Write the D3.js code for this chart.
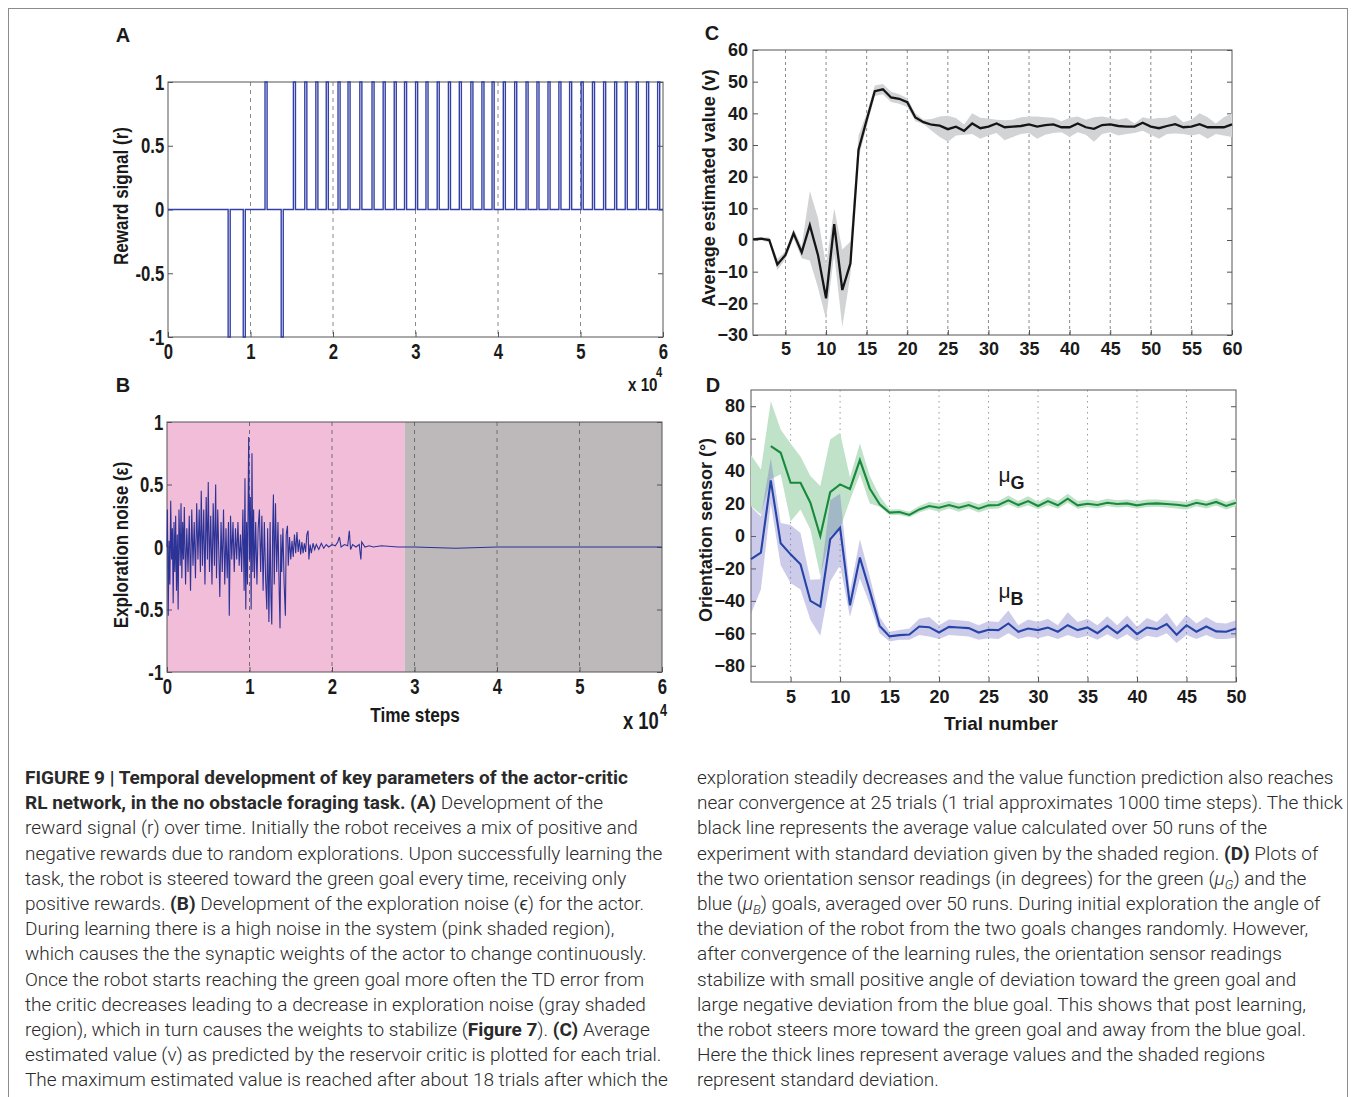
<!DOCTYPE html>
<html>
<head>
<meta charset="utf-8">
<script src="https://cdn.jsdelivr.net/npm/d3@7"></script>
<style>
  body { margin: 0; background: #fff; }
</style>
</head>
<body>
<div id="chart"></div>
<script>
// ---------------- data ----------------
// Panel A: reward pulses (start times, x 10^4 steps)
var rewardNegStarts = [0.729, 0.912, 1.372];
var rewardPosStarts = [1.176, 1.520, 1.658, 1.792, 1.918, 2.061, 2.182, 2.325, 2.473, 2.608,
  2.742, 2.867, 3.001, 3.127, 3.263, 3.399, 3.531, 3.671, 3.805, 3.928,
  4.064, 4.202, 4.340, 4.472, 4.606, 4.738, 4.868, 5.008, 5.145, 5.280,
  5.414, 5.542, 5.676, 5.801, 5.935];
var pulseWidth = 0.025;

// Panel B: exploration noise samples [time x 10^4, value]
var noiseSamples = [[0.00, 0.0], [0.005, 0.3], [0.015, -0.55], [0.025, 0.05], [0.035, -0.3], [0.045, 0.37],
  [0.055, -0.1], [0.065, 0.15], [0.075, -0.45], [0.085, 0.2], [0.095, -0.2], [0.105, 0.25], [0.115, -0.35],
  [0.125, 0.1], [0.135, -0.5], [0.145, 0.3], [0.16, -0.15], [0.17, 0.35], [0.18, -0.25], [0.19, 0.2],
  [0.2, -0.1], [0.21, 0.32], [0.225, -0.3], [0.24, 0.15], [0.255, -0.2], [0.27, 0.25], [0.285, -0.35],
  [0.30, 0.3], [0.315, -0.15], [0.33, 0.2], [0.345, -0.25], [0.36, 0.35], [0.375, -0.1], [0.39, 0.3],
  [0.405, -0.2], [0.415, 0.45], [0.43, -0.15], [0.445, 0.3], [0.46, -0.3], [0.475, 0.4], [0.49, -0.1],
  [0.50, 0.52], [0.515, -0.2], [0.53, 0.25], [0.545, -0.3], [0.56, 0.35], [0.575, -0.15], [0.59, 0.5],
  [0.60, -0.25], [0.615, 0.3], [0.63, -0.1], [0.64, -0.4], [0.655, 0.2], [0.67, -0.2], [0.685, 0.3],
  [0.70, -0.3], [0.715, 0.15], [0.73, -0.25], [0.745, 0.2], [0.755, -0.55], [0.77, 0.25], [0.785, -0.1],
  [0.80, 0.2], [0.815, -0.2], [0.83, 0.15], [0.845, -0.1], [0.86, 0.2], [0.875, -0.15], [0.89, 0.1],
  [0.905, -0.2], [0.92, 0.3], [0.935, -0.35], [0.945, 0.55], [0.955, -0.5], [0.965, 0.2], [0.975, -0.3],
  [0.99, 0.88], [1.0, -0.1], [1.01, 0.4], [1.02, -0.5], [1.03, 0.75], [1.04, -0.2], [1.05, 0.3],
  [1.06, -0.25], [1.075, 0.2], [1.09, -0.3], [1.105, 0.15], [1.12, 0.3], [1.135, -0.2], [1.15, 0.25],
  [1.165, -0.35], [1.18, 0.2], [1.195, -0.25], [1.21, -0.5], [1.22, 0.15], [1.235, -0.6], [1.25, 0.2],
  [1.26, -0.4], [1.27, -0.62], [1.28, 0.1], [1.29, 0.42], [1.30, -0.3], [1.315, 0.35], [1.33, -0.2],
  [1.345, 0.2], [1.36, -0.35], [1.37, -0.65], [1.38, 0.1], [1.39, -0.2], [1.405, 0.15], [1.42, -0.3],
  [1.435, -0.55], [1.445, 0.1], [1.46, 0.17], [1.47, -0.15], [1.485, 0.08], [1.50, -0.1], [1.515, 0.05],
  [1.53, -0.08], [1.545, 0.1], [1.56, -0.05], [1.575, 0.12], [1.59, -0.04], [1.605, 0.06], [1.62, -0.06],
  [1.635, 0.04], [1.65, -0.05], [1.665, 0.03], [1.68, -0.04], [1.695, 0.1], [1.71, 0.13], [1.72, -0.1],
  [1.735, 0.02], [1.75, -0.05], [1.77, 0.03], [1.79, -0.02], [1.81, 0.02], [1.84, -0.02], [1.87, 0.03],
  [1.90, -0.01], [1.93, 0.02], [1.96, 0.0], [2.0, 0.02], [2.04, 0.01], [2.07, 0.04], [2.09, 0.08],
  [2.11, 0.0], [2.15, 0.02], [2.19, 0.01], [2.21, 0.13], [2.225, -0.02], [2.25, 0.02], [2.29, 0.0],
  [2.33, 0.02], [2.35, -0.1], [2.36, 0.04], [2.4, 0.0], [2.45, 0.01], [2.5, 0.0], [2.6, 0.01],
  [2.8, 0.0], [3.0, 0.0], [3.5, -0.01], [4.0, 0.0], [6.0, 0.0]];
var noisePhaseBounds = [0, 2.88, 6];   // pink (learning) then gray (converged)

// Panel C: average estimated value per trial
var cTrials = d3.range(1, 61);
var cMean = [0.2, 0.4, 0, -7.7, -4.7, 2.1, -3.9, 4.7, -4.7, -18.4, 5.0, -15.8, -7.4, 28.5, 37.9, 47, 47.6, 45,
  44.6, 43.5, 38.7, 37.2, 36.4, 36.1, 35.0, 35.8, 34.5, 36.8, 35.3, 35.8, 36.8, 35.6, 35.8, 36.0, 36.5, 35.8,
  36.3, 36.5, 35.6, 35.6, 36.8, 35.6, 35.1, 36.3, 36.5, 36.0, 35.8, 35.8, 37.0, 35.8, 35.3, 36.0, 36.6, 35.6,
  35.8, 36.6, 35.6, 35.6, 35.6, 36.5];
var cUpper = [0.6, 0.9, 0.8, -6, -3.5, 3.5, -2, 15.5, 7, -8, 10, -3, -0.5, 33, 40, 48.8, 49.3, 46.8, 46, 44.8,
  40, 38, 38.2, 39, 39.2, 38.5, 36.5, 40, 38.6, 38.4, 38, 37.8, 38, 38.8, 39, 39, 38.8, 38.6, 37.5, 38.6, 39, 38,
  38.8, 39, 38.5, 38, 38.5, 36.8, 38.8, 38.2, 38.5, 38.6, 39.5, 37.2, 38, 40, 38.8, 36.8, 38.8, 40];
var cLower = [-0.2, -0.1, -0.8, -9.5, -6, 0.5, -5.8, -6.5, -15, -25, -4.5, -27.5, -11, 26, 35.8, 45.5, 46, 43.6,
  43, 42, 37.5, 36.6, 34.5, 32.5, 31, 33, 33.2, 33.5, 32, 33, 33.8, 31.5, 32.5, 33.5, 33.8, 32, 33.2, 33.8, 34,
  32.5, 34, 33.2, 31, 33.5, 34, 33, 33.5, 33.8, 34.5, 33.2, 32, 33.5, 33.6, 33.5, 33, 33.5, 32, 33.5, 33, 32.5];

// Panel D: orientation sensor readings per trial (green and blue goals)
var dTrials = d3.range(1, 51);
var gMean = [null, null, 55.4, 51.3, 32.8, 32.8, 20.5, 0, 27, 31.8, 29, 46.8, 29.3, 19.5, 14.4, 14.8, 13, 16.4,
  18.5, 17.4, 19.1, 17.4, 19.1, 16.8, 18.9, 19.1, 22, 19.1, 21.5, 18.5, 21.5, 18.9, 23, 18.9, 19.9, 19.1, 20.5,
  19.7, 20.1, 18.9, 19.9, 20.1, 19.7, 19.3, 18.5, 20.5, 19.3, 21, 18.5, 20.5];
var gUpper = [50, 41, 83, 65.6, 57, 49, 37, 30.8, 59.5, 63.6, 36, 57, 37, 24.6, 16.4, 16.5, 15, 18.5, 21, 20,
  21.5, 20, 21.5, 19.5, 21.5, 21.5, 25, 21.5, 24.5, 21, 24, 21.5, 26, 21.5, 22.5, 21.5, 23, 22, 22.5, 21.5,
  22.5, 22.5, 22, 21.5, 21, 23, 21.5, 23.5, 21, 23];
var gLower = [18.5, 13.3, 35, 38, 9, 16.4, 4, -24.6, 0, 5, 22, 38, 20, 18, 13, 13, 11.5, 14.5, 16.5, 15, 17,
  15, 17, 14.5, 16.5, 17, 19.5, 17, 19, 16.5, 19, 16.8, 20.5, 16.8, 17.8, 17, 18.5, 17.5, 18, 16.8, 17.8, 18,
  17.5, 17, 16.3, 18.3, 17, 18.8, 16.3, 18.3];
var bMean = [-14.3, -10.2, 34.3, -4.5, -11.3, -17.4, -40, -43.5, -2, 5.1, -42.7, -13.3, -33.8, -55.4, -61.9,
  -61.1, -60.7, -55.8, -56.2, -59.5, -56, -56.4, -56.8, -59.5, -57.8, -58, -53.9, -59, -57, -58, -56.4, -59, -55,
  -58, -56.4, -59.9, -55.4, -59.9, -55, -60.5, -56.4, -57.4, -54.3, -60.9, -55, -59, -55.8, -58.8, -59, -57];
var bUpper = [18, 12, 48, 8, 6.8, 1.8, -27, -26.7, 22, 26, -34, -2, -25, -50, -59, -58, -57, -51, -50, -55,
  -51.5, -52, -52.5, -55, -52.5, -53, -46, -55, -51.5, -53, -51, -55, -47, -53, -51, -55, -49.5, -55, -49, -56,
  -50.5, -53, -47.5, -56, -48.5, -54, -50, -53.5, -54, -52];
var bLower = [-48, -33, 20, -18, -29, -33, -51.7, -61.5, -28, -18, -50, -26, -42, -60, -65, -64, -64, -61, -62,
  -63.5, -61, -61.5, -62, -64, -63, -63.5, -60, -63.5, -62, -63, -61.5, -63.5, -61, -63, -61.5, -64, -60.5, -64,
  -60.5, -65, -61.5, -62.5, -60, -66, -61, -63.5, -61, -63.5, -63.5, -62.5];

// Tick values
var abTicksX = [0, 1, 2, 3, 4, 5, 6];
var abTicksY = [-1, -0.5, 0, 0.5, 1];
var cTicksX = [5, 10, 15, 20, 25, 30, 35, 40, 45, 50, 55, 60];
var cTicksY = [-30, -20, -10, 0, 10, 20, 30, 40, 50, 60];
var dTicksX = [5, 10, 15, 20, 25, 30, 35, 40, 45, 50];
var dTicksY = [-80, -60, -40, -20, 0, 20, 40, 60, 80];

// Caption lines (** toggles bold, μ_X is italic mu with subscript)
var captionLeft = [
  "**FIGURE 9 | Temporal development of key parameters of the actor-critic**",
  "**RL network, in the no obstacle foraging task. (A)** Development of the",
  "reward signal (r) over time. Initially the robot receives a mix of positive and",
  "negative rewards due to random explorations. Upon successfully learning the",
  "task, the robot is steered toward the green goal every time, receiving only",
  "positive rewards. **(B)** Development of the exploration noise (\u03f5) for the actor.",
  "During learning there is a high noise in the system (pink shaded region),",
  "which causes the the synaptic weights of the actor to change continuously.",
  "Once the robot starts reaching the green goal more often the TD error from",
  "the critic decreases leading to a decrease in exploration noise (gray shaded",
  "region), which in turn causes the weights to stabilize (**Figure 7**). **(C)** Average",
  "estimated value (v) as predicted by the reservoir critic is plotted for each trial.",
  "The maximum estimated value is reached after about 18 trials after which the"
];
var captionRight = [
  "exploration steadily decreases and the value function prediction also reaches",
  "near convergence at 25 trials (1 trial approximates 1000 time steps). The thick",
  "black line represents the average value calculated over 50 runs of the",
  "experiment with standard deviation given by the shaded region. **(D)** Plots of",
  "the two orientation sensor readings (in degrees) for the green (μ_G) and the",
  "blue (μ_B) goals, averaged over 50 runs. During initial exploration the angle of",
  "the deviation of the robot from the two goals changes randomly. However,",
  "after convergence of the learning rules, the orientation sensor readings",
  "stabilize with small positive angle of deviation toward the green goal and",
  "large negative deviation from the blue goal. This shows that post learning,",
  "the robot steers more toward the green goal and away from the blue goal.",
  "Here the thick lines represent average values and the shaded regions",
  "represent standard deviation."
];

// ---------------- drawing ----------------
var boldFont = "'Liberation Sans', Arial, Helvetica, sans-serif";
var captionFont = "Roboto, 'Liberation Sans', sans-serif";

var svg = d3.select("#chart").append("svg")
    .attr("width", 1355)
    .attr("height", 1097);

// outer figure frame
svg.append("rect")
    .attr("x", 8.5).attr("y", 8.5)
    .attr("width", 1339).attr("height", 1100)
    .attr("fill", "none")
    .attr("stroke", "#8c8c8c");

// draws grid, ticks, labels and box for one panel
function drawAxes(x, y, o) {
    var x0 = x.range()[0], x1 = x.range()[1];
    var y0 = y.range()[0], y1 = y.range()[1];

    // vertical grid lines
    svg.append("g").selectAll("line")
        .data(o.grid)
        .enter().append("line")
        .attr("x1", d => x(d)).attr("x2", d => x(d))
        .attr("y1", y1).attr("y2", y0)
        .attr("stroke", o.gridColor)
        .attr("stroke-width", 1)
        .attr("stroke-dasharray", o.dash);

    var bottom = svg.append("g")
        .attr("transform", "translate(0," + y0 + ")")
        .call(d3.axisBottom(x).tickValues(o.xTicks).tickSizeInner(-5).tickSizeOuter(0)
            .tickPadding(o.xPad).tickFormat(o.fmt));
    var left = svg.append("g")
        .attr("transform", "translate(" + x0 + ",0)")
        .call(d3.axisLeft(y).tickValues(o.yTicks).tickSizeInner(-5).tickSizeOuter(0)
            .tickPadding(o.yPad).tickFormat(o.fmt));
    var right = svg.append("g")
        .attr("transform", "translate(" + x1 + ",0)")
        .call(d3.axisRight(y).tickValues(o.yTicks).tickSizeInner(-5).tickSizeOuter(0).tickFormat(""));

    [bottom, left, right].forEach(function(a) {
        a.select(".domain").remove();
        a.selectAll(".tick line").attr("stroke", "#555");
        a.selectAll("text")
            .attr("fill", "#1a1a1a")
            .attr("transform", "scale(" + o.sx + ",1)")
            .style("font-family", boldFont)
            .style("font-size", o.size + "px")
            .style("font-weight", "bold");
    });

    svg.append("rect")
        .attr("x", x0).attr("y", y1)
        .attr("width", x1 - x0).attr("height", y0 - y1)
        .attr("fill", "none")
        .attr("stroke", "#555")
        .attr("stroke-width", 1);
}

// bold label; sx squeezes the text along its own direction
function addText(x, y, str, size, sx, rotate, anchor) {
    var t = svg.append("text")
        .attr("text-anchor", anchor || "middle")
        .attr("fill", "#1a1a1a")
        .style("font-family", boldFont)
        .style("font-size", size + "px")
        .style("font-weight", "bold")
        .text(str);
    if (rotate) {
        t.attr("transform", "translate(" + x + "," + y + ") rotate(-90) scale(" + sx + ",1)")
            .attr("dy", "0.35em");
    } else {
        t.attr("transform", "translate(" + x + "," + y + ") scale(" + sx + ",1)");
    }
    return t;
}

// ---------- Panel A: reward signal ----------
var xA = d3.scaleLinear().domain([0, 6]).range([168, 663]);
var yA = d3.scaleLinear().domain([-1, 1]).range([337, 82]);

var pulses = rewardNegStarts.map(s => [s, -1])
    .concat(rewardPosStarts.map(s => [s, 1]))
    .sort((a, b) => a[0] - b[0]);
var rewardSteps = [[0, 0]];
pulses.forEach(function(p) {
    rewardSteps.push([p[0], 0], [p[0], p[1]], [p[0] + pulseWidth, p[1]], [p[0] + pulseWidth, 0]);
});
rewardSteps.push([6, 0]);

drawAxes(xA, yA, {
    grid: [1, 2, 3, 4, 5], gridColor: "#8a8a8a", dash: "4,4",
    xTicks: abTicksX, yTicks: abTicksY, fmt: d => String(d),
    size: 22, sx: 0.76, xPad: 6, yPad: 5
});

svg.append("path")
    .datum(rewardSteps)
    .attr("d", d3.line().x(d => xA(d[0])).y(d => yA(d[1])))
    .attr("fill", "none")
    .attr("stroke", "#3340a6")
    .attr("stroke-width", 1.4);

addText(123, 42, "A", 20, 1);
addText(121, 196, "Reward signal (r)", 20, 0.85, true);
addText(628, 391, "x 10", 19, 0.8, false, "start");
addText(656, 377, "4", 14, 0.8, false, "start");

// ---------- Panel B: exploration noise ----------
var xB = d3.scaleLinear().domain([0, 6]).range([167, 662]);
var yB = d3.scaleLinear().domain([-1, 1]).range([672, 422]);
var phaseColors = ["#f2bdd9", "#bdb9ba"];

svg.append("g").selectAll("rect")
    .data(d3.pairs(noisePhaseBounds))
    .enter().append("rect")
    .attr("x", d => xB(d[0]))
    .attr("y", yB(1))
    .attr("width", d => xB(d[1]) - xB(d[0]))
    .attr("height", yB(-1) - yB(1))
    .attr("fill", (d, i) => phaseColors[i]);

drawAxes(xB, yB, {
    grid: [1, 2, 3, 4, 5], gridColor: "#6e6e6e", dash: "4,4",
    xTicks: abTicksX, yTicks: abTicksY, fmt: d => String(d),
    size: 22, sx: 0.76, xPad: 6, yPad: 5
});

svg.append("path")
    .datum(noiseSamples)
    .attr("d", d3.line().x(d => xB(d[0])).y(d => yB(d[1])))
    .attr("fill", "none")
    .attr("stroke", "#2b3396")
    .attr("stroke-width", 1.1);

addText(123, 392, "B", 20, 1);
addText(121, 545, "Exploration noise (\u03b5)", 20, 0.85, true);
addText(415, 722, "Time steps", 21, 0.82);
addText(623, 729, "x 10", 23, 0.8, false, "start");
addText(660, 716, "4", 16, 0.8, false, "start");

// ---------- Panel C: average estimated value ----------
var xC = d3.scaleLinear().domain([1, 60]).range([753, 1232]);
var yC = d3.scaleLinear().domain([-30, 60]).range([335, 50]);

drawAxes(xC, yC, {
    grid: cTicksX.slice(0, -1), gridColor: "#8a8a8a", dash: "3,3",
    xTicks: cTicksX, yTicks: cTicksY, fmt: d3.format("d"),
    size: 18, sx: 1, xPad: 7, yPad: 5
});

svg.append("path")
    .datum(cTrials)
    .attr("d", d3.area().x(d => xC(d)).y0((d, i) => yC(cLower[i])).y1((d, i) => yC(cUpper[i])))
    .attr("fill", "#d2d3d5");

svg.append("path")
    .datum(cTrials)
    .attr("d", d3.line().x(d => xC(d)).y((d, i) => yC(cMean[i])))
    .attr("fill", "none")
    .attr("stroke", "#151515")
    .attr("stroke-width", 2.3);

addText(712, 40, "C", 20, 1);
addText(709, 188, "Average estimated value (v)", 18, 1, true);

// ---------- Panel D: orientation sensor ----------
var xD = d3.scaleLinear().domain([1, 50]).range([751, 1236]);
var yD = d3.scaleLinear().domain([-90, 90]).range([682, 390]);

drawAxes(xD, yD, {
    grid: dTicksX.slice(0, -1), gridColor: "#9a9a9a", dash: "1.5,4",
    xTicks: dTicksX, yTicks: dTicksY, fmt: d3.format("d"),
    size: 18, sx: 1, xPad: 8, yPad: 6
});

var bandD = (lo, hi) => d3.area().x(d => xD(d)).y0((d, i) => yD(lo[i])).y1((d, i) => yD(hi[i]));
var lineD = (m) => d3.line().defined((d, i) => m[i] !== null).x(d => xD(d)).y((d, i) => yD(m[i]));

svg.append("path").datum(dTrials).attr("d", bandD(gLower, gUpper))
    .attr("fill", "#bfe2c8");
svg.append("path").datum(dTrials).attr("d", bandD(bLower, bUpper))
    .attr("fill", "#6e69c2").attr("fill-opacity", 0.35);
svg.append("path").datum(dTrials).attr("d", lineD(gMean))
    .attr("fill", "none").attr("stroke", "#178a3c").attr("stroke-width", 2.1);
svg.append("path").datum(dTrials).attr("d", lineD(bMean))
    .attr("fill", "none").attr("stroke", "#2644a8").attr("stroke-width", 2.1);

// series labels
[["G", 33], ["B", -38]].forEach(function(s) {
    var t = svg.append("text")
        .attr("x", xD(26)).attr("y", yD(s[1]))
        .attr("fill", "#1a1a1a")
        .style("font-family", boldFont)
        .style("font-size", "21px");
    t.append("tspan").text("\u03bc");
    t.append("tspan").attr("dy", 7).style("font-weight", "bold").style("font-size", "18px").text(s[0]);
});

addText(713, 392, "D", 20, 1);
addText(706, 530, "Orientation sensor (\u00b0)", 18, 1, true);
addText(1001, 730, "Trial number", 19, 1);

// ---------- Caption ----------
function captionLine(x, y, str) {
    var t = svg.append("text")
        .attr("x", x).attr("y", y)
        .attr("fill", "#2a2a2a")
        .style("font-family", captionFont)
        .style("font-size", "19px")
        .style("font-weight", 300);
    var bold = false, shift = 0;
    str.split(/(\*\*|μ_[GB])/).forEach(function(part) {
        if (part === "") return;
        if (part === "**") { bold = !bold; return; }
        if (part.indexOf("μ_") === 0) {
            var mu = t.append("tspan").style("font-style", "italic").text("\u03bc");
            if (shift) { mu.attr("dy", shift); }
            t.append("tspan").style("font-style", "italic").style("font-size", "13px")
                .attr("dy", 4).text(part.charAt(2));
            shift = -4;
            return;
        }
        var ts = t.append("tspan").style("font-weight", bold ? 700 : 300).text(part);
        if (shift) { ts.attr("dy", shift); shift = 0; }
    });
}

captionLeft.forEach((s, i) => captionLine(25, 784 + i * 25.2, s));
captionRight.forEach((s, i) => captionLine(697, 784 + i * 25.2, s));
</script>
</body>
</html>
